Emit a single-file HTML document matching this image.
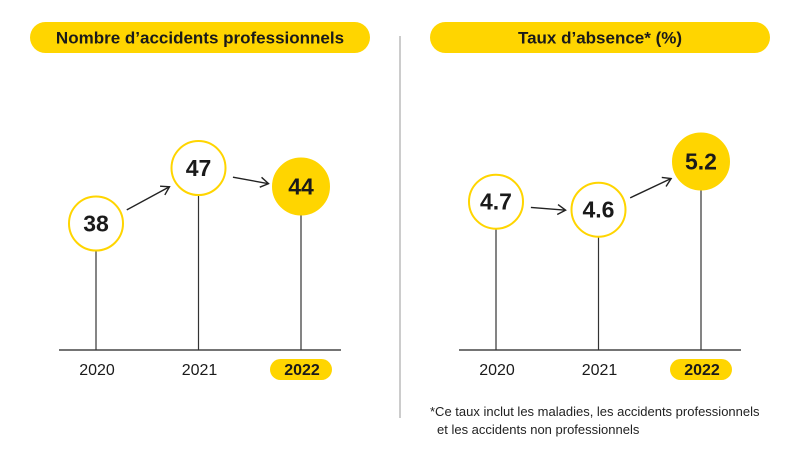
<!DOCTYPE html>
<html><head><meta charset="utf-8"><style>
body{margin:0;background:#fff;font-family:"Liberation Sans",sans-serif;}
svg{display:block}
</style></head><body>
<svg width="800" height="455" viewBox="0 0 800 455">
<defs><marker id="ah" markerWidth="12" markerHeight="12" refX="9" refY="6" orient="auto" markerUnits="userSpaceOnUse"><path d="M1,1 L9,6 L1,11" fill="none" stroke="#222" stroke-width="1.4"/></marker></defs>
<g id="left"></g>
<g id="right"></g>
<line x1="400" y1="36" x2="400" y2="418" stroke="#999" stroke-width="1"/>
<text x="430" y="416" font-size="13" fill="#222">*Ce taux inclut les maladies, les accidents professionnels</text>
<text x="437" y="434" font-size="13" fill="#222">et les accidents non professionnels</text>
</svg>
<script>
const years = ["2020","2021","2022"];
const accidents = [38, 47, 44];
const absence = [4.7, 4.6, 5.2];
const accidentLabels = ["38","47","44"];
const absenceLabels = ["4.7","4.6","5.2"];
const NS="http://www.w3.org/2000/svg";
function mk(p,t,a){const e=document.createElementNS(NS,t);for(const k in a)e.setAttribute(k,a[k]);p.appendChild(e);return e;}
function panel(g,x0,title,vals,labels,yScale){
  const t=mk(g,'rect',{x:x0+30,y:22,width:340,height:31,rx:15.5,fill:'#FFD500'});
  
  
  const tt=mk(g,'text',{x:x0+200,y:43.5,'text-anchor':'middle','font-size':17,'font-weight':'bold',fill:'#1a1a1a'});
  tt.textContent=title;
  
  
  const base=350;
  const bl=mk(g,'line',{x1:x0+59,y1:base,x2:x0+341,y2:base,stroke:'#222','stroke-width':1.2});
  
  
  const xs=years.map((_,i)=>x0+96+i*102.5);
  const ys=vals.map(yScale);
  const r=27;
  for(let i=0;i<vals.length;i++){
    const s=mk(g,'line',{x1:xs[i],y1:ys[i]+r,x2:xs[i],y2:base,stroke:'#333','stroke-width':1.2});
    
    
    const last=i===vals.length-1;
    const c=mk(g,'circle',{cx:xs[i],cy:ys[i],r:last?r+1:r,fill:last?'#FFD500':'#fff',stroke:'#FFD500','stroke-width':2});
    
    
    const v=mk(g,'text',{x:xs[i],y:ys[i]+8,'text-anchor':'middle','font-size':23,'font-weight':'bold',fill:'#1a1a1a'});
    v.textContent=labels[i];
    
    
    if(last){
      const p=mk(g,'rect',{x:xs[i]-31,y:359,width:62,height:21,rx:10.5,fill:'#FFD500'});
      
      
    }
    const yl=mk(g,'text',{x:xs[i]+1,y:375,'text-anchor':'middle','font-size':16,'font-weight':last?'bold':'normal',fill:'#1a1a1a'});
    yl.textContent=years[i];
    
    
    if(i>0){
      const dx=xs[i]-xs[i-1],dy=ys[i]-ys[i-1],L=Math.hypot(dx,dy),ux=dx/L,uy=dy/L;
      const a=mk(g,'line',{x1:xs[i-1]+ux*(r+8),y1:ys[i-1]+uy*(r+8)+3,x2:xs[i]-ux*(r+6),y2:ys[i]-uy*(r+6)+3,stroke:'#222','stroke-width':1.4,'marker-end':'url(#ah)'});
      
      
    }
  }
}
panel(document.getElementById('left'),0,"Nombre d\u2019accidents professionnels",accidents,accidentLabels,v=>192.7-6.17*(v-43));
panel(document.getElementById('right'),400,"Taux d\u2019absence* (%)",absence,absenceLabels,v=>191-80.4*(v-4.833));
</script>
</body></html>
